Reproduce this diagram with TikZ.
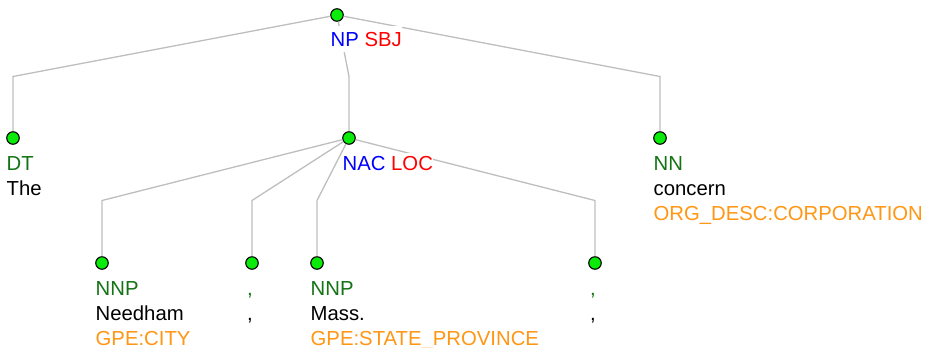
\documentclass[tikz,border=0pt]{standalone}
\usepackage{fontspec}
\setmainfont{Liberation Sans}
\usetikzlibrary{calc}
\definecolor{posgreen}{RGB}{20,115,20}
\definecolor{entorange}{RGB}{255,150,20}
\definecolor{dotgreen}{RGB}{10,235,10}
\definecolor{branchgray}{RGB}{190,190,190}
\newcommand{\phr}[2]{\textcolor{blue}{#1} \textcolor{red}{#2}}
\newcommand{\pos}[1]{\textcolor{posgreen}{#1}}
\newcommand{\ent}[1]{\textcolor{entorange}{#1}}
\begin{document}
\begin{tikzpicture}
[x = 1pt, y = -1pt,
 dot/.style = {circle, draw, line width = 1.1pt, fill = dotgreen, inner sep = 0pt, minimum size = 12.5pt},
 branch/.style = {draw = branchgray, line width = 1.3pt},
 lbl/.style = {anchor = base west, align = left, fill = white, inner xsep = 0pt, inner ysep = 3pt, font = \fontsize{20.3}{25}\selectfont}]
\useasboundingbox (0,0) rectangle (927,348);
\node[dot] (np) at (337,15) {};
\node[dot] (dt) at (13,138) {};
\node[dot] (nac) at (349,138) {};
\node[dot] (nn) at (660,138) {};
\node[dot] (nnpa) at (102,263) {};
\node[dot] (comma) at (252,263) {};
\node[dot] (nnpb) at (317,263) {};
\node[dot] (commb) at (595,263) {};
\foreach \p/\c in {np/dt, np/nac, np/nn, nac/nnpa, nac/comma, nac/nnpb, nac/commb}{
  \path ($(\p)!.5!(\c)$) coordinate (elbow);
  \draw[branch] (\p) -- (\c |- elbow) -- (\c);
}
% base anchor sits on the last line
\node[lbl, inner ysep = 6pt] (npl) at ($(np)+(-6.5,31)$) {\phr{NP}{SBJ}};
\node[lbl] (nacl) at ($(nac)+(-6.5,32)$) {\phr{NAC}{LOC}};
\node[lbl] (dtl) at ($(dt)+(-6.5,57)$) {\pos{DT}\\The};
\node[lbl] (nnl) at ($(nn)+(-6.5,82)$) {\pos{NN}\\concern\\\ent{ORG\_DESC:CORPORATION}};
\node[lbl] (nnpal) at ($(nnpa)+(-6.5,82)$) {\pos{NNP}\\Needham\\\ent{GPE:CITY}};
\node[lbl] (commal) at ($(comma)+(-5,57)$) {\pos{,}\\,};
\node[lbl] (nnpbl) at ($(nnpb)+(-6.5,82)$) {\pos{NNP}\\Mass.\\\ent{GPE:STATE\_PROVINCE}};
\node[lbl] (commbl) at ($(commb)+(-5,57)$) {\pos{,}\\,};
\end{tikzpicture}
\end{document}
